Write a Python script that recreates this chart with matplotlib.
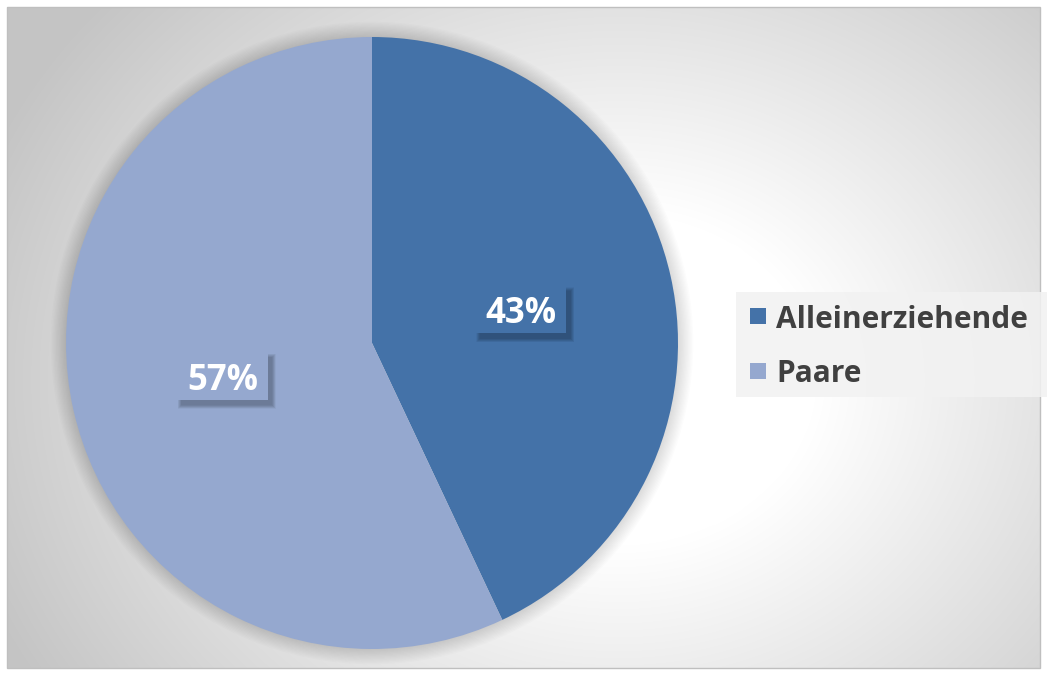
import matplotlib.pyplot as plt
from matplotlib.patches import Rectangle, Circle
import numpy as np

plt.rcParams['font.family'] = ['Open Sans', 'DejaVu Sans']

# data
categories = ['Alleinerziehende', 'Paare']
shares = [43, 57]
colors = ['#4472A8', '#95A8CF']

W, H = 1047, 675
fig = plt.figure(figsize=(W / 100, H / 100), dpi=100)
ax = fig.add_axes([0, 0, 1, 1])

# radial gradient background inside the chart border
yy, xx = np.mgrid[0:H, 0:W]
d = np.hypot((xx - 620) * 0.85, yy - 380)
bg = 1.0 - 0.23 * np.clip((d - 170) / 420, 0, 1)
img = np.dstack([bg, bg, bg])
ax.imshow(img, extent=(7, 1040, 7, 668), origin='upper', zorder=0)
ax.add_patch(Rectangle((7, 7), 1033, 661, fill=False, ec='#bfbfbf', lw=1, zorder=1))

cx, cy, r = 372, H - 343, 306

# soft shadow around the pie
for i in range(12):
    ax.add_patch(Circle((cx, cy), r + 1 + i * 1.3, color='black', alpha=0.011, lw=0, zorder=1))

wedges, _, autotexts = ax.pie(
    shares, colors=colors, startangle=90, counterclock=False,
    center=(cx, cy), radius=r, autopct='%d%%', pctdistance=0.5,
    wedgeprops=dict(lw=0), frame=True,
)
ax.set_xlim(0, W)
ax.set_ylim(0, H)
ax.set_aspect('equal')
ax.axis('off')

# label boxes with blurred shadow
bw, bh = 90, 47
for t, c in zip(autotexts, colors):
    x, y = t.get_position()
    for k in range(8):
        g = 8 - k
        ax.add_patch(Rectangle((x - bw / 2 + 4 - g / 2, y - bh / 2 - 5 - g / 2), bw + g, bh + g,
                               fc='black', ec='none', alpha=0.035, zorder=3))
    ax.add_patch(Rectangle((x - bw / 2, y - bh / 2), bw, bh, fc=c, ec='none', zorder=4))
    t.set_color('white')
    t.set_fontsize(25)
    t.set_fontweight('bold')
    t.set_va('center_baseline')
    t.set_zorder(5)

# legend
ax.add_patch(Rectangle((736, H - 397), 311, 105, fc='#f2f2f2', ec='none', alpha=0.85, zorder=2))
for i, (name, c) in enumerate(zip(categories, colors)):
    ym = H - (316 + i * 55)
    ax.add_patch(Rectangle((750, ym - 8), 16, 16, fc=c, ec='none', zorder=3))
    ax.text(776, ym, name, fontsize=21.5, fontweight='bold', color='#404040',
            va='center_baseline', ha='left', zorder=3)

fig.savefig('out.png', dpi=100)
